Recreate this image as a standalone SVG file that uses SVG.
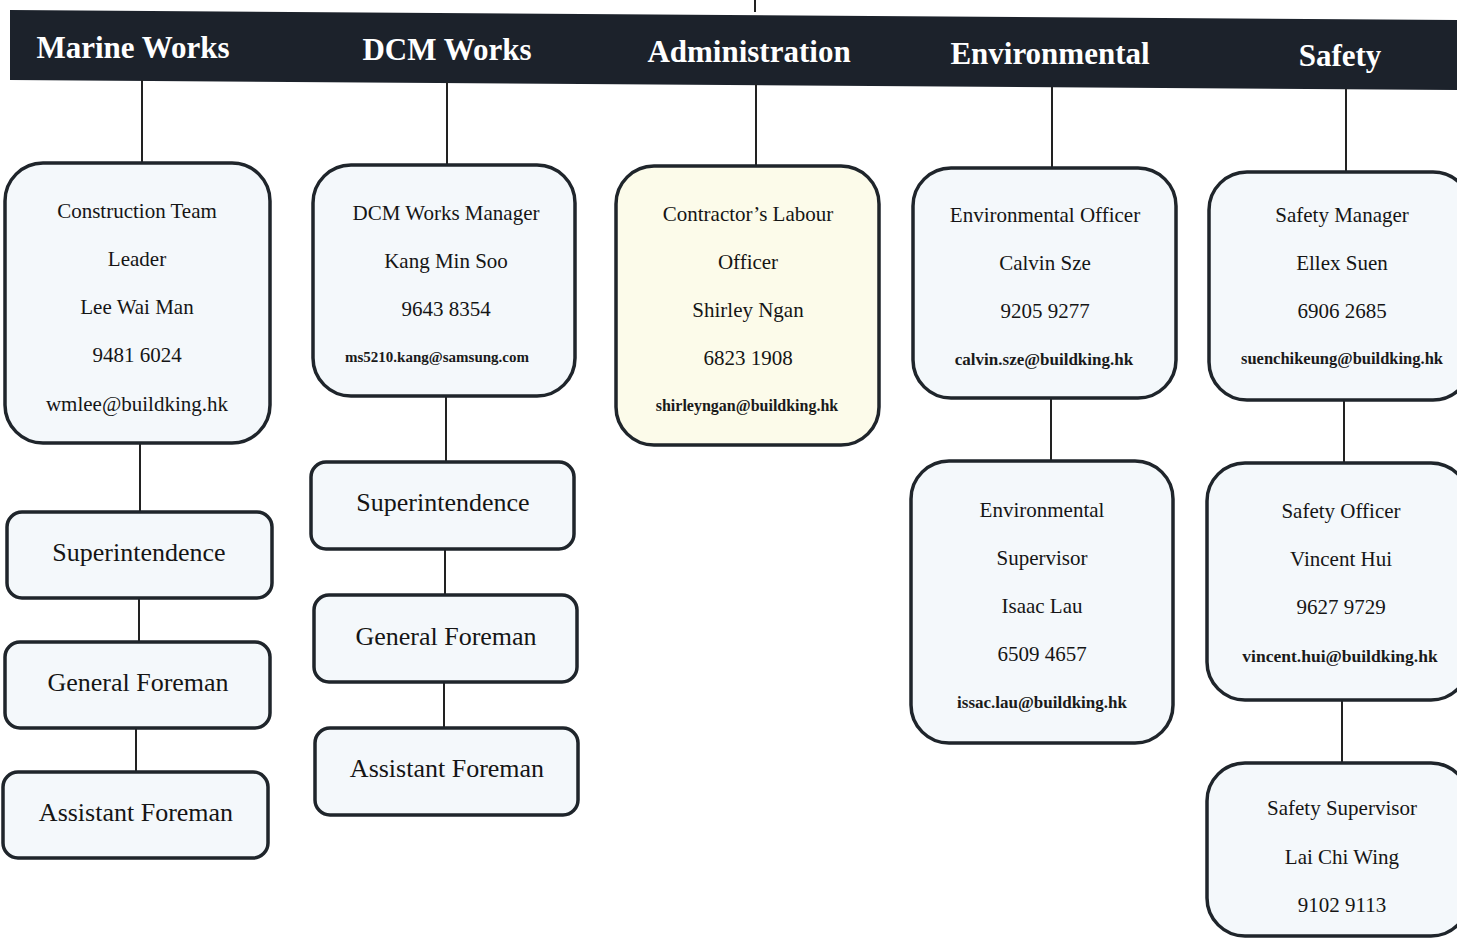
<svg xmlns="http://www.w3.org/2000/svg" width="1457" height="938" viewBox="0 0 1457 938">
<style>
.bg{fill:#ffffff}
.bar{fill:#1c222b}
.hd{font-family:"Liberation Serif",serif;font-weight:bold;font-size:31px;fill:#ffffff;text-anchor:middle}
.box{fill:#f4f8fb;stroke:#1f252b;stroke-width:3.5}
.ybox{fill:#fcfbea;stroke:#1f252b;stroke-width:3.5}
.t{font-family:"Liberation Serif",serif;font-size:21px;fill:#151515;text-anchor:middle}
.e{font-family:"Liberation Serif",serif;font-weight:bold;fill:#1a1a1a;text-anchor:middle}
.s{font-family:"Liberation Serif",serif;font-size:26px;fill:#151515;text-anchor:middle}
.c{stroke:#222;stroke-width:2;fill:none}
</style>
<rect class="bg" x="0" y="0" width="1457" height="938"/>
<g id="header">
<polygon class="bar" points="10,10 1457,20 1457,90 10,80"/>
<text class="hd" x="133" y="58">Marine Works</text>
<text class="hd" x="447" y="60">DCM Works</text>
<text class="hd" x="749" y="62">Administration</text>
<text class="hd" x="1050" y="64">Environmental</text>
<text class="hd" x="1340" y="66">Safety</text>
</g>
<g id="connectors">
<line class="c" x1="755" y1="0" x2="755" y2="12"/>
<line class="c" x1="142" y1="80" x2="142" y2="163"/>
<line class="c" x1="447" y1="82" x2="447" y2="165"/>
<line class="c" x1="756" y1="84" x2="756" y2="166"/>
<line class="c" x1="1052" y1="87" x2="1052" y2="168"/>
<line class="c" x1="1346" y1="89" x2="1346" y2="172"/>
<line class="c" x1="140" y1="443" x2="140" y2="512"/>
<line class="c" x1="139" y1="598" x2="139" y2="642"/>
<line class="c" x1="136" y1="728" x2="136" y2="772"/>
<line class="c" x1="446" y1="396" x2="446" y2="462"/>
<line class="c" x1="445" y1="549" x2="445" y2="595"/>
<line class="c" x1="444" y1="682" x2="444" y2="728"/>
<line class="c" x1="1051" y1="398" x2="1051" y2="461"/>
<line class="c" x1="1344" y1="400" x2="1344" y2="463"/>
<line class="c" x1="1342" y1="700" x2="1342" y2="763"/>
</g>
<g id="construction-team-leader">
<rect class="box" x="5" y="163" width="265" height="280" rx="38"/>
<text class="t" x="137" y="218">Construction Team</text>
<text class="t" x="137" y="266">Leader</text>
<text class="t" x="137" y="314">Lee Wai Man</text>
<text class="t" x="137" y="362">9481 6024</text>
<text class="t" x="137" y="411">wmlee@buildking.hk</text>
</g>
<g id="marine-superintendence">
<rect class="box" x="7" y="512" width="265" height="86" rx="15"/>
<text class="s" x="139" y="561">Superintendence</text>
</g>
<g id="marine-general-foreman">
<rect class="box" x="5" y="642" width="265" height="86" rx="15"/>
<text class="s" x="138" y="691">General Foreman</text>
</g>
<g id="marine-assistant-foreman">
<rect class="box" x="3" y="772" width="265" height="86" rx="15"/>
<text class="s" x="136" y="821">Assistant Foreman</text>
</g>
<g id="dcm-works-manager">
<rect class="box" x="313" y="165" width="262" height="231" rx="38"/>
<text class="t" x="446" y="220">DCM Works Manager</text>
<text class="t" x="446" y="268">Kang Min Soo</text>
<text class="t" x="446" y="316">9643 8354</text>
<text class="e" x="437" y="362" font-size="15">ms5210.kang@samsung.com</text>
</g>
<g id="dcm-superintendence">
<rect class="box" x="311" y="462" width="263" height="87" rx="15"/>
<text class="s" x="443" y="511">Superintendence</text>
</g>
<g id="dcm-general-foreman">
<rect class="box" x="314" y="595" width="263" height="87" rx="15"/>
<text class="s" x="446" y="645">General Foreman</text>
</g>
<g id="dcm-assistant-foreman">
<rect class="box" x="315" y="728" width="263" height="87" rx="15"/>
<text class="s" x="447" y="777">Assistant Foreman</text>
</g>
<g id="contractors-labour-officer">
<rect class="ybox" x="616" y="166" width="263" height="279" rx="38"/>
<text class="t" x="748" y="221">Contractor’s Labour</text>
<text class="t" x="748" y="269">Officer</text>
<text class="t" x="748" y="317">Shirley Ngan</text>
<text class="t" x="748" y="365">6823 1908</text>
<text class="e" x="747" y="411" font-size="16">shirleyngan@buildking.hk</text>
</g>
<g id="environmental-officer">
<rect class="box" x="913" y="168" width="263" height="230" rx="38"/>
<text class="t" x="1045" y="222">Environmental Officer</text>
<text class="t" x="1045" y="270">Calvin Sze</text>
<text class="t" x="1045" y="318">9205 9277</text>
<text class="e" x="1044" y="365" font-size="17">calvin.sze@buildking.hk</text>
</g>
<g id="environmental-supervisor">
<rect class="box" x="911" y="461" width="262" height="282" rx="38"/>
<text class="t" x="1042" y="517">Environmental</text>
<text class="t" x="1042" y="565">Supervisor</text>
<text class="t" x="1042" y="613">Isaac Lau</text>
<text class="t" x="1042" y="661">6509 4657</text>
<text class="e" x="1042" y="708" font-size="17">issac.lau@buildking.hk</text>
</g>
<g id="safety-manager">
<rect class="box" x="1209" y="172" width="262" height="228" rx="38"/>
<text class="t" x="1342" y="222">Safety Manager</text>
<text class="t" x="1342" y="270">Ellex Suen</text>
<text class="t" x="1342" y="318">6906 2685</text>
<text class="e" x="1342" y="364" font-size="16.5">suenchikeung@buildking.hk</text>
</g>
<g id="safety-officer">
<rect class="box" x="1207" y="463" width="262" height="237" rx="38"/>
<text class="t" x="1341" y="518">Safety Officer</text>
<text class="t" x="1341" y="566">Vincent Hui</text>
<text class="t" x="1341" y="614">9627 9729</text>
<text class="e" x="1340" y="662" font-size="17.5">vincent.hui@buildking.hk</text>
</g>
<g id="safety-supervisor">
<rect class="box" x="1207" y="763" width="262" height="173" rx="38"/>
<text class="t" x="1342" y="815">Safety Supervisor</text>
<text class="t" x="1342" y="864">Lai Chi Wing</text>
<text class="t" x="1342" y="912">9102 9113</text>
</g>
</svg>
